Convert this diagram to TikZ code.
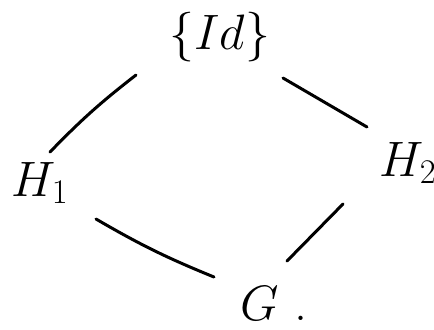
\documentclass[tikz,border=0pt]{standalone}
\usepackage{amssymb,amsmath,tikz}

\begin{document}
\begin{tikzpicture}[x=0.5pt,y=-0.5pt,line width=1.5pt,line cap=round]
\tikzstyle{group}=[inner sep=0pt,font=\fontsize{26}{30}\selectfont]
\tikzstyle{incl}=[draw]

\useasboundingbox (0,0) rectangle (434,329);

\node[group] (id) at (220,37) {$\{Id\}$};
\node[group] (h1) at (40,183) {$H_1$};
\node[group] (h2) at (408,163) {$H_2$};
\node[group] (g) at (274,303) {$G$ .};

\path ([shift={(-84,38)}]id.center) edge[incl,bend right=4] ([shift={(10,-31)}]h1.center);
\path ([shift={(63,41)}]id.center) edge[incl] ([shift={(-41,-36)}]h2.center);
\path ([shift={(56,36)}]h1.center) edge[incl,bend right=4] ([shift={(-60,-26)}]g.center);
\path ([shift={(-65,41)}]h2.center) edge[incl] ([shift={(13,-42)}]g.center);

\end{tikzpicture}
\end{document}
